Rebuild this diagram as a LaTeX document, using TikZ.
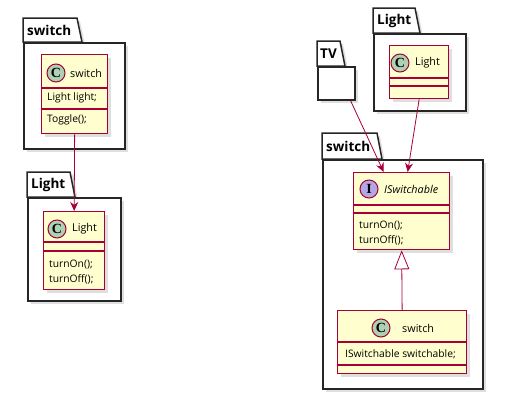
\documentclass[tikz,border=0pt]{standalone}
\usepackage{fontspec}
\setmainfont{Open Sans}
\newfontfamily\letterfont{Liberation Serif}
\usetikzlibrary{arrows.meta,calc,shadows}
\definecolor{clsfill}{HTML}{FEFECE}
\definecolor{clsdraw}{HTML}{A80036}
\definecolor{cgreen}{HTML}{ADD1B2}
\definecolor{ipurple}{HTML}{B4A7E5}

\begin{document}
\begin{tikzpicture}[x=1pt,y=-1pt,
    pkg/.style={draw=black!85, line width=1.5pt, fill=white, drop shadow={shadow xshift=3pt, shadow yshift=-3pt, opacity=0.25}},
    pkgtext/.style={font=\bfseries\fontsize{13.5}{15}\selectfont, anchor=west, inner sep=0pt},
    cls/.style={draw=clsdraw, line width=1.3pt, fill=clsfill, rectangle, inner sep=0pt, anchor=north west, drop shadow={shadow xshift=3pt, shadow yshift=-3pt, opacity=0.25}},
    sep/.style={draw=clsdraw, line width=1.3pt},
    circ/.style={circle, draw=clsdraw, line width=1pt, minimum size=18pt, inner sep=0pt, font=\letterfont\bfseries\fontsize{14}{14}\selectfont},
    txt/.style={font=\fontsize{10.3}{12}\selectfont, anchor=west, inner sep=0pt},
    clsname/.style={font=\fontsize{10.8}{12}\selectfont, anchor=west, inner sep=0pt},
    dep/.style={draw=clsdraw, line width=0.8pt, -{Stealth[length=9pt,width=8pt]}}]
    \useasboundingbox (0,0) rectangle (506,402); % fixes the page to the reference size

    % left: package switch
    \draw[pkg] (23,42) -- (23,18) -- (77,18) -- (82,42) -- cycle; % tab
    \node[pkg, rectangle, anchor=north west, minimum width=101pt, minimum height=106pt] (swpkg) at (23,42) {};
    \node[pkgtext] (swpkgtxt) at (27,30) {switch};
    \node[cls, minimum width=66pt, minimum height=79pt] (swc) at (41,54) {};
    \draw[sep] (swc.west |- 0,88) -- (swc.east |- 0,88);
    \draw[sep] (swc.west |- 0,109) -- (swc.east |- 0,109);
    \node[circ, fill=cgreen] (swcC) at (56,73) {C};
    \node[clsname] (swcname) at (70,73) {switch};
    \node[txt] (swcattr) at (47,98) {Light light;};
    \node[txt] (swcop) at (47,120) {Toggle();};

    % left: package Light
    \draw[pkg] (27,197) -- (27,172) -- (70,172) -- (75,197) -- cycle; % tab
    \node[pkg, rectangle, anchor=north west, minimum width=93pt, minimum height=103pt] (lpkg) at (27,197) {};
    \node[pkgtext] (lpkgtxt) at (31,185) {Light};
    \node[cls, minimum width=61pt, minimum height=78pt] (lc) at (43,211) {};
    \draw[sep] (lc.west |- 0,242) -- (lc.east |- 0,242);
    \draw[sep] (lc.west |- 0,251) -- (lc.east |- 0,251);
    \node[circ, fill=cgreen] (lcC) at (57,229) {C};
    \node[clsname] (lcname) at (72,229) {Light};
    \node[txt] (lcon) at (49,265) {turnOn();};
    \node[txt] (lcoff) at (49,279) {turnOff();};

    \draw[dep] (swc.south) -- (lc.north); % switch uses Light

    % right: package TV
    \draw[pkg] (317,66) -- (317,41) -- (340,41) -- (345,66) -- cycle; % tab
    \node[pkg, rectangle, anchor=north west, minimum width=37pt, minimum height=33pt] (tvpkg) at (317,66) {};
    \node[pkgtext] (tvpkgtxt) at (320,54) {TV};

    % right: package Light
    \draw[pkg] (373,33) -- (373,8) -- (415,8) -- (420,33) -- cycle; % tab
    \node[pkg, rectangle, anchor=north west, minimum width=92pt, minimum height=77pt] (rlpkg) at (373,33) {};
    \node[pkgtext] (rlpkgtxt) at (377,21) {Light};
    \node[cls, minimum width=59pt, minimum height=53pt] (rlc) at (389,45) {};
    \draw[sep] (rlc.west |- 0,78) -- (rlc.east |- 0,78);
    \draw[sep] (rlc.west |- 0,86) -- (rlc.east |- 0,86);
    \node[circ, fill=cgreen] (rlcC) at (400,63) {C};
    \node[clsname] (rlcname) at (415,63) {Light};

    % right: package switch
    \draw[pkg] (322,159) -- (322,133) -- (377,133) -- (382,159) -- cycle; % tab
    \node[pkg, rectangle, anchor=north west, minimum width=160pt, minimum height=229pt] (rswpkg) at (322,159) {};
    \node[pkgtext] (rswpkgtxt) at (326,146) {switch};
    \node[cls, minimum width=96pt, minimum height=77pt] (isw) at (353,172) {};
    \draw[sep] (isw.west |- 0,205) -- (isw.east |- 0,205);
    \draw[sep] (isw.west |- 0,213) -- (isw.east |- 0,213);
    \node[circ, fill=ipurple] (iswI) at (369,189) {I};
    \node[clsname, font=\itshape\fontsize{10.8}{12}\selectfont] (iswname) at (384,189) {ISwitchable};
    \node[txt] (iswon) at (359,226) {turnOn();};
    \node[txt] (iswoff) at (359,240) {turnOff();};
    \node[cls, minimum width=129pt, minimum height=63pt] (rswc) at (337,310) {};
    \draw[sep] (rswc.west |- 0,342) -- (rswc.east |- 0,342);
    \draw[sep] (rswc.west |- 0,365) -- (rswc.east |- 0,365);
    \node[circ, fill=cgreen] (rswcC) at (381,328) {C};
    \node[clsname] (rswcname) at (402,328) {switch};
    \node[txt] (rswcattr) at (345,354) {ISwitchable switchable;};

    \draw[dep] ([xshift=-5pt]tvpkg.south east) -- ([xshift=-18pt]isw.north); % TV uses ISwitchable
    \draw[dep] (rlc.south) -- ([xshift=6pt]isw.north); % Light points at ISwitchable
    \draw[draw=clsdraw, line width=0.8pt, -{Triangle[open,length=19pt,width=15pt,fill=white]}] (rswc.north) -- (isw.south); % switch realizes ISwitchable
\end{tikzpicture}
\end{document}
